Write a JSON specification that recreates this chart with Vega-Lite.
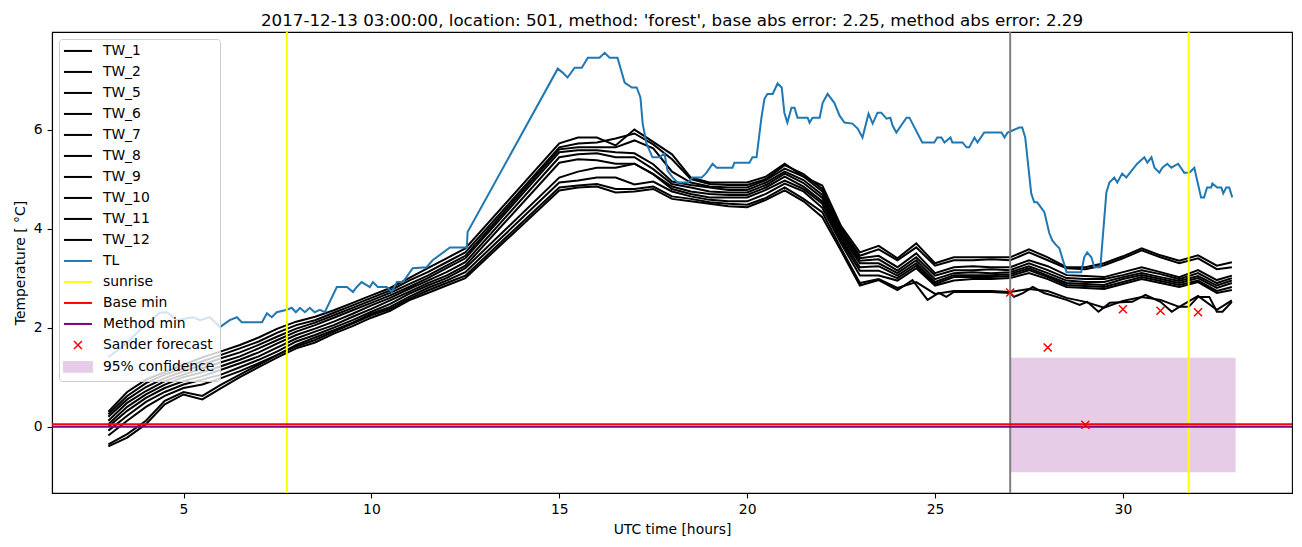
{
"$schema": "https://vega.github.io/schema/vega-lite/v6.json",
"width": 1240, "height": 461,
"autosize": {"type": "none"},
"padding": {"left": 52, "top": 32, "right": 10, "bottom": 54},
"background": "white",
"title": {"text": "2017-12-13 03:00:00, location: 501, method: 'forest', base abs error: 2.25, method abs error: 2.29", "font": "DejaVu Sans", "fontSize": 16.7, "fontWeight": "normal", "color": "black", "anchor": "middle", "frame": "group", "offset": 4, "baseline": "bottom", "dy": 20},
"config": {
"view": {"stroke": "black", "strokeWidth": 1.1},
"axis": {"domainColor": "black", "domainWidth": 1.1, "tickColor": "black", "tickWidth": 1.1, "tickSize": 4.9, "labelPadding": 4.9, "labelFont": "DejaVu Sans", "labelFontSize": 13.9, "labelColor": "black", "titleFont": "DejaVu Sans", "titleFontSize": 13.9, "titleFontWeight": "normal", "titleColor": "black", "titlePadding": 5.6, "grid": false}
},
"datasets": {
"tw": [
{"s":"TW_1","h":3,"v":0.30},{"s":"TW_1","h":3.5,"v":0.70},{"s":"TW_1","h":4,"v":0.95},{"s":"TW_1","h":4.5,"v":1.10},{"s":"TW_1","h":5,"v":1.25},{"s":"TW_1","h":5.5,"v":1.40},{"s":"TW_1","h":6,"v":1.52},{"s":"TW_1","h":6.5,"v":1.65},{"s":"TW_1","h":7,"v":1.80},{"s":"TW_1","h":7.5,"v":1.98},{"s":"TW_1","h":8,"v":2.12},{"s":"TW_1","h":8.5,"v":2.22},{"s":"TW_1","h":9,"v":2.35},{"s":"TW_1","h":9.5,"v":2.50},{"s":"TW_1","h":10,"v":2.65},{"s":"TW_1","h":10.5,"v":2.80},{"s":"TW_1","h":11,"v":3.00},{"s":"TW_1","h":11.5,"v":3.20},{"s":"TW_1","h":12,"v":3.40},{"s":"TW_1","h":12.5,"v":3.60},
{"s":"TW_1","h":15,"v":5.72},{"s":"TW_1","h":15.5,"v":5.84},{"s":"TW_1","h":16,"v":5.84},{"s":"TW_1","h":16.5,"v":5.68},{"s":"TW_1","h":17,"v":6.00},{"s":"TW_1","h":17.5,"v":5.75},{"s":"TW_1","h":18,"v":5.50},{"s":"TW_1","h":18.5,"v":5.03},{"s":"TW_1","h":19,"v":4.93},{"s":"TW_1","h":19.5,"v":4.93},{"s":"TW_1","h":20,"v":4.93},{"s":"TW_1","h":20.5,"v":5.05},{"s":"TW_1","h":21,"v":5.31},{"s":"TW_1","h":21.5,"v":5.05},{"s":"TW_1","h":22,"v":4.87},{"s":"TW_1","h":22.5,"v":4.05},{"s":"TW_1","h":23,"v":3.52},
{"s":"TW_1","h":23.5,"v":3.65},{"s":"TW_1","h":24,"v":3.40},{"s":"TW_1","h":24.5,"v":3.70},{"s":"TW_1","h":25,"v":3.30},{"s":"TW_1","h":25.5,"v":3.42},{"s":"TW_1","h":26,"v":3.42},{"s":"TW_1","h":26.5,"v":3.42},{"s":"TW_1","h":27,"v":3.42},{"s":"TW_1","h":27.5,"v":3.58},{"s":"TW_1","h":28,"v":3.42},{"s":"TW_1","h":28.5,"v":3.22},{"s":"TW_1","h":29,"v":3.22},{"s":"TW_1","h":29.5,"v":3.30},{"s":"TW_1","h":30,"v":3.44},{"s":"TW_1","h":30.5,"v":3.60},{"s":"TW_1","h":31,"v":3.46},{"s":"TW_1","h":31.5,"v":3.35},{"s":"TW_1","h":32,"v":3.46},{"s":"TW_1","h":32.5,"v":3.25},{"s":"TW_1","h":32.9,"v":3.32},
{"s":"TW_2","h":3,"v":0.25},{"s":"TW_2","h":3.5,"v":0.62},{"s":"TW_2","h":4,"v":0.88},{"s":"TW_2","h":4.5,"v":1.05},{"s":"TW_2","h":5,"v":1.18},{"s":"TW_2","h":5.5,"v":1.32},{"s":"TW_2","h":6,"v":1.45},{"s":"TW_2","h":6.5,"v":1.58},{"s":"TW_2","h":7,"v":1.72},{"s":"TW_2","h":7.5,"v":1.90},{"s":"TW_2","h":8,"v":2.05},{"s":"TW_2","h":8.5,"v":2.15},{"s":"TW_2","h":9,"v":2.30},{"s":"TW_2","h":9.5,"v":2.45},{"s":"TW_2","h":10,"v":2.60},{"s":"TW_2","h":10.5,"v":2.75},{"s":"TW_2","h":11,"v":2.95},{"s":"TW_2","h":11.5,"v":3.12},{"s":"TW_2","h":12,"v":3.32},{"s":"TW_2","h":12.5,"v":3.52},
{"s":"TW_2","h":15,"v":5.64},{"s":"TW_2","h":15.5,"v":5.72},{"s":"TW_2","h":16,"v":5.74},{"s":"TW_2","h":16.5,"v":5.82},{"s":"TW_2","h":17,"v":5.92},{"s":"TW_2","h":17.5,"v":5.70},{"s":"TW_2","h":18,"v":5.40},{"s":"TW_2","h":18.5,"v":5.00},{"s":"TW_2","h":19,"v":4.90},{"s":"TW_2","h":19.5,"v":4.88},{"s":"TW_2","h":20,"v":4.88},{"s":"TW_2","h":20.5,"v":5.00},{"s":"TW_2","h":21,"v":5.28},{"s":"TW_2","h":21.5,"v":5.10},{"s":"TW_2","h":22,"v":4.80},{"s":"TW_2","h":22.5,"v":4.00},{"s":"TW_2","h":23,"v":3.45},
{"s":"TW_2","h":23.5,"v":3.58},{"s":"TW_2","h":24,"v":3.36},{"s":"TW_2","h":24.5,"v":3.62},{"s":"TW_2","h":25,"v":3.25},{"s":"TW_2","h":25.5,"v":3.36},{"s":"TW_2","h":26,"v":3.36},{"s":"TW_2","h":26.5,"v":3.38},{"s":"TW_2","h":27,"v":3.36},{"s":"TW_2","h":27.5,"v":3.52},{"s":"TW_2","h":28,"v":3.36},{"s":"TW_2","h":28.5,"v":3.20},{"s":"TW_2","h":29,"v":3.18},{"s":"TW_2","h":29.5,"v":3.26},{"s":"TW_2","h":30,"v":3.40},{"s":"TW_2","h":30.5,"v":3.56},{"s":"TW_2","h":31,"v":3.42},{"s":"TW_2","h":31.5,"v":3.30},{"s":"TW_2","h":32,"v":3.40},{"s":"TW_2","h":32.5,"v":3.18},{"s":"TW_2","h":32.9,"v":3.22},
{"s":"TW_5","h":3,"v":0.20},{"s":"TW_5","h":3.5,"v":0.55},{"s":"TW_5","h":4,"v":0.80},{"s":"TW_5","h":4.5,"v":0.98},{"s":"TW_5","h":5,"v":1.12},{"s":"TW_5","h":5.5,"v":1.25},{"s":"TW_5","h":6,"v":1.38},{"s":"TW_5","h":6.5,"v":1.50},{"s":"TW_5","h":7,"v":1.65},{"s":"TW_5","h":7.5,"v":1.82},{"s":"TW_5","h":8,"v":1.98},{"s":"TW_5","h":8.5,"v":2.10},{"s":"TW_5","h":9,"v":2.25},{"s":"TW_5","h":9.5,"v":2.40},{"s":"TW_5","h":10,"v":2.55},{"s":"TW_5","h":10.5,"v":2.70},{"s":"TW_5","h":11,"v":2.88},{"s":"TW_5","h":11.5,"v":3.05},{"s":"TW_5","h":12,"v":3.25},{"s":"TW_5","h":12.5,"v":3.45},
{"s":"TW_5","h":15,"v":5.60},{"s":"TW_5","h":15.5,"v":5.64},{"s":"TW_5","h":16,"v":5.64},{"s":"TW_5","h":16.5,"v":5.64},{"s":"TW_5","h":17,"v":5.78},{"s":"TW_5","h":17.5,"v":5.62},{"s":"TW_5","h":18,"v":5.15},{"s":"TW_5","h":18.5,"v":4.93},{"s":"TW_5","h":19,"v":4.85},{"s":"TW_5","h":19.5,"v":4.83},{"s":"TW_5","h":20,"v":4.83},{"s":"TW_5","h":20.5,"v":4.98},{"s":"TW_5","h":21,"v":5.21},{"s":"TW_5","h":21.5,"v":5.05},{"s":"TW_5","h":22,"v":4.75},{"s":"TW_5","h":22.5,"v":3.95},{"s":"TW_5","h":23,"v":3.40},
{"s":"TW_5","h":23.5,"v":3.45},{"s":"TW_5","h":24,"v":3.22},{"s":"TW_5","h":24.5,"v":3.50},{"s":"TW_5","h":25,"v":3.10},{"s":"TW_5","h":25.5,"v":3.22},{"s":"TW_5","h":26,"v":3.24},{"s":"TW_5","h":26.5,"v":3.22},{"s":"TW_5","h":27,"v":3.22},{"s":"TW_5","h":27.5,"v":3.36},{"s":"TW_5","h":28,"v":3.24},{"s":"TW_5","h":28.5,"v":3.06},{"s":"TW_5","h":29,"v":3.04},{"s":"TW_5","h":29.5,"v":3.02},{"s":"TW_5","h":30,"v":3.12},{"s":"TW_5","h":30.5,"v":3.22},{"s":"TW_5","h":31,"v":3.12},{"s":"TW_5","h":31.5,"v":3.02},{"s":"TW_5","h":32,"v":3.16},{"s":"TW_5","h":32.5,"v":2.96},{"s":"TW_5","h":32.9,"v":3.05},
{"s":"TW_6","h":3,"v":0.12},{"s":"TW_6","h":3.5,"v":0.48},{"s":"TW_6","h":4,"v":0.72},{"s":"TW_6","h":4.5,"v":0.92},{"s":"TW_6","h":5,"v":1.05},{"s":"TW_6","h":5.5,"v":1.18},{"s":"TW_6","h":6,"v":1.30},{"s":"TW_6","h":6.5,"v":1.42},{"s":"TW_6","h":7,"v":1.58},{"s":"TW_6","h":7.5,"v":1.75},{"s":"TW_6","h":8,"v":1.92},{"s":"TW_6","h":8.5,"v":2.05},{"s":"TW_6","h":9,"v":2.20},{"s":"TW_6","h":9.5,"v":2.35},{"s":"TW_6","h":10,"v":2.50},{"s":"TW_6","h":10.5,"v":2.65},{"s":"TW_6","h":11,"v":2.82},{"s":"TW_6","h":11.5,"v":3.00},{"s":"TW_6","h":12,"v":3.20},{"s":"TW_6","h":12.5,"v":3.40},
{"s":"TW_6","h":15,"v":5.54},{"s":"TW_6","h":15.5,"v":5.58},{"s":"TW_6","h":16,"v":5.58},{"s":"TW_6","h":16.5,"v":5.54},{"s":"TW_6","h":17,"v":5.52},{"s":"TW_6","h":17.5,"v":5.30},{"s":"TW_6","h":18,"v":4.95},{"s":"TW_6","h":18.5,"v":4.88},{"s":"TW_6","h":19,"v":4.83},{"s":"TW_6","h":19.5,"v":4.78},{"s":"TW_6","h":20,"v":4.78},{"s":"TW_6","h":20.5,"v":4.93},{"s":"TW_6","h":21,"v":5.15},{"s":"TW_6","h":21.5,"v":4.98},{"s":"TW_6","h":22,"v":4.68},{"s":"TW_6","h":22.5,"v":3.90},{"s":"TW_6","h":23,"v":3.35},
{"s":"TW_6","h":23.5,"v":3.38},{"s":"TW_6","h":24,"v":3.15},{"s":"TW_6","h":24.5,"v":3.42},{"s":"TW_6","h":25,"v":3.05},{"s":"TW_6","h":25.5,"v":3.16},{"s":"TW_6","h":26,"v":3.16},{"s":"TW_6","h":26.5,"v":3.18},{"s":"TW_6","h":27,"v":3.16},{"s":"TW_6","h":27.5,"v":3.30},{"s":"TW_6","h":28,"v":3.16},{"s":"TW_6","h":28.5,"v":3.00},{"s":"TW_6","h":29,"v":2.98},{"s":"TW_6","h":29.5,"v":2.98},{"s":"TW_6","h":30,"v":3.06},{"s":"TW_6","h":30.5,"v":3.16},{"s":"TW_6","h":31,"v":3.08},{"s":"TW_6","h":31.5,"v":2.98},{"s":"TW_6","h":32,"v":3.10},{"s":"TW_6","h":32.5,"v":2.90},{"s":"TW_6","h":32.9,"v":3.00},
{"s":"TW_7","h":3,"v":0.05},{"s":"TW_7","h":3.5,"v":0.40},{"s":"TW_7","h":4,"v":0.65},{"s":"TW_7","h":4.5,"v":0.85},{"s":"TW_7","h":5,"v":1.00},{"s":"TW_7","h":5.5,"v":1.10},{"s":"TW_7","h":6,"v":1.22},{"s":"TW_7","h":6.5,"v":1.35},{"s":"TW_7","h":7,"v":1.50},{"s":"TW_7","h":7.5,"v":1.68},{"s":"TW_7","h":8,"v":1.85},{"s":"TW_7","h":8.5,"v":1.98},{"s":"TW_7","h":9,"v":2.12},{"s":"TW_7","h":9.5,"v":2.28},{"s":"TW_7","h":10,"v":2.45},{"s":"TW_7","h":10.5,"v":2.60},{"s":"TW_7","h":11,"v":2.78},{"s":"TW_7","h":11.5,"v":2.95},{"s":"TW_7","h":12,"v":3.12},{"s":"TW_7","h":12.5,"v":3.32},
{"s":"TW_7","h":15,"v":5.44},{"s":"TW_7","h":15.5,"v":5.50},{"s":"TW_7","h":16,"v":5.52},{"s":"TW_7","h":16.5,"v":5.44},{"s":"TW_7","h":17,"v":5.44},{"s":"TW_7","h":17.5,"v":5.20},{"s":"TW_7","h":18,"v":4.90},{"s":"TW_7","h":18.5,"v":4.83},{"s":"TW_7","h":19,"v":4.75},{"s":"TW_7","h":19.5,"v":4.73},{"s":"TW_7","h":20,"v":4.73},{"s":"TW_7","h":20.5,"v":4.88},{"s":"TW_7","h":21,"v":5.11},{"s":"TW_7","h":21.5,"v":4.92},{"s":"TW_7","h":22,"v":4.62},{"s":"TW_7","h":22.5,"v":3.85},{"s":"TW_7","h":23,"v":3.30},
{"s":"TW_7","h":23.5,"v":3.30},{"s":"TW_7","h":24,"v":3.10},{"s":"TW_7","h":24.5,"v":3.36},{"s":"TW_7","h":25,"v":2.98},{"s":"TW_7","h":25.5,"v":3.10},{"s":"TW_7","h":26,"v":3.12},{"s":"TW_7","h":26.5,"v":3.10},{"s":"TW_7","h":27,"v":3.12},{"s":"TW_7","h":27.5,"v":3.24},{"s":"TW_7","h":28,"v":3.10},{"s":"TW_7","h":28.5,"v":2.95},{"s":"TW_7","h":29,"v":2.92},{"s":"TW_7","h":29.5,"v":2.92},{"s":"TW_7","h":30,"v":3.02},{"s":"TW_7","h":30.5,"v":3.10},{"s":"TW_7","h":31,"v":3.02},{"s":"TW_7","h":31.5,"v":2.94},{"s":"TW_7","h":32,"v":3.04},{"s":"TW_7","h":32.5,"v":2.85},{"s":"TW_7","h":32.9,"v":2.95},
{"s":"TW_8","h":3,"v":0.00},{"s":"TW_8","h":3.5,"v":0.32},{"s":"TW_8","h":4,"v":0.58},{"s":"TW_8","h":4.5,"v":0.78},{"s":"TW_8","h":5,"v":0.92},{"s":"TW_8","h":5.5,"v":1.02},{"s":"TW_8","h":6,"v":1.15},{"s":"TW_8","h":6.5,"v":1.28},{"s":"TW_8","h":7,"v":1.42},{"s":"TW_8","h":7.5,"v":1.60},{"s":"TW_8","h":8,"v":1.78},{"s":"TW_8","h":8.5,"v":1.92},{"s":"TW_8","h":9,"v":2.05},{"s":"TW_8","h":9.5,"v":2.22},{"s":"TW_8","h":10,"v":2.38},{"s":"TW_8","h":10.5,"v":2.55},{"s":"TW_8","h":11,"v":2.72},{"s":"TW_8","h":11.5,"v":2.90},{"s":"TW_8","h":12,"v":3.05},{"s":"TW_8","h":12.5,"v":3.25},
{"s":"TW_8","h":15,"v":5.33},{"s":"TW_8","h":15.5,"v":5.40},{"s":"TW_8","h":16,"v":5.38},{"s":"TW_8","h":16.5,"v":5.31},{"s":"TW_8","h":17,"v":5.31},{"s":"TW_8","h":17.5,"v":5.10},{"s":"TW_8","h":18,"v":4.85},{"s":"TW_8","h":18.5,"v":4.75},{"s":"TW_8","h":19,"v":4.70},{"s":"TW_8","h":19.5,"v":4.68},{"s":"TW_8","h":20,"v":4.68},{"s":"TW_8","h":20.5,"v":4.83},{"s":"TW_8","h":21,"v":5.05},{"s":"TW_8","h":21.5,"v":4.85},{"s":"TW_8","h":22,"v":4.55},{"s":"TW_8","h":22.5,"v":3.80},{"s":"TW_8","h":23,"v":3.22},
{"s":"TW_8","h":23.5,"v":3.24},{"s":"TW_8","h":24,"v":3.05},{"s":"TW_8","h":24.5,"v":3.30},{"s":"TW_8","h":25,"v":2.92},{"s":"TW_8","h":25.5,"v":3.06},{"s":"TW_8","h":26,"v":3.06},{"s":"TW_8","h":26.5,"v":3.06},{"s":"TW_8","h":27,"v":3.08},{"s":"TW_8","h":27.5,"v":3.20},{"s":"TW_8","h":28,"v":3.05},{"s":"TW_8","h":28.5,"v":2.90},{"s":"TW_8","h":29,"v":2.88},{"s":"TW_8","h":29.5,"v":2.86},{"s":"TW_8","h":30,"v":2.98},{"s":"TW_8","h":30.5,"v":3.06},{"s":"TW_8","h":31,"v":2.98},{"s":"TW_8","h":31.5,"v":2.90},{"s":"TW_8","h":32,"v":3.00},{"s":"TW_8","h":32.5,"v":2.80},{"s":"TW_8","h":32.9,"v":2.90},
{"s":"TW_9","h":3,"v":-0.08},{"s":"TW_9","h":3.5,"v":0.22},{"s":"TW_9","h":4,"v":0.50},{"s":"TW_9","h":4.5,"v":0.70},{"s":"TW_9","h":5,"v":0.85},{"s":"TW_9","h":5.5,"v":0.95},{"s":"TW_9","h":6,"v":1.05},{"s":"TW_9","h":6.5,"v":1.20},{"s":"TW_9","h":7,"v":1.35},{"s":"TW_9","h":7.5,"v":1.52},{"s":"TW_9","h":8,"v":1.72},{"s":"TW_9","h":8.5,"v":1.85},{"s":"TW_9","h":9,"v":2.00},{"s":"TW_9","h":9.5,"v":2.15},{"s":"TW_9","h":10,"v":2.32},{"s":"TW_9","h":10.5,"v":2.48},{"s":"TW_9","h":11,"v":2.68},{"s":"TW_9","h":11.5,"v":2.85},{"s":"TW_9","h":12,"v":3.00},{"s":"TW_9","h":12.5,"v":3.20},
{"s":"TW_9","h":15,"v":5.03},{"s":"TW_9","h":15.5,"v":5.15},{"s":"TW_9","h":16,"v":5.23},{"s":"TW_9","h":16.5,"v":5.23},{"s":"TW_9","h":17,"v":5.31},{"s":"TW_9","h":17.5,"v":5.10},{"s":"TW_9","h":18,"v":4.80},{"s":"TW_9","h":18.5,"v":4.70},{"s":"TW_9","h":19,"v":4.63},{"s":"TW_9","h":19.5,"v":4.63},{"s":"TW_9","h":20,"v":4.63},{"s":"TW_9","h":20.5,"v":4.78},{"s":"TW_9","h":21,"v":4.97},{"s":"TW_9","h":21.5,"v":4.80},{"s":"TW_9","h":22,"v":4.50},{"s":"TW_9","h":22.5,"v":3.75},{"s":"TW_9","h":23,"v":3.15},
{"s":"TW_9","h":23.5,"v":3.15},{"s":"TW_9","h":24,"v":3.00},{"s":"TW_9","h":24.5,"v":3.25},{"s":"TW_9","h":25,"v":2.88},{"s":"TW_9","h":25.5,"v":3.02},{"s":"TW_9","h":26,"v":3.02},{"s":"TW_9","h":26.5,"v":3.02},{"s":"TW_9","h":27,"v":3.04},{"s":"TW_9","h":27.5,"v":3.16},{"s":"TW_9","h":28,"v":3.02},{"s":"TW_9","h":28.5,"v":2.86},{"s":"TW_9","h":29,"v":2.84},{"s":"TW_9","h":29.5,"v":2.82},{"s":"TW_9","h":30,"v":2.92},{"s":"TW_9","h":30.5,"v":3.02},{"s":"TW_9","h":31,"v":2.94},{"s":"TW_9","h":31.5,"v":2.86},{"s":"TW_9","h":32,"v":2.95},{"s":"TW_9","h":32.5,"v":2.74},{"s":"TW_9","h":32.9,"v":2.82},
{"s":"TW_10","h":3,"v":-0.18},{"s":"TW_10","h":3.5,"v":0.12},{"s":"TW_10","h":4,"v":0.40},{"s":"TW_10","h":4.5,"v":0.62},{"s":"TW_10","h":5,"v":0.78},{"s":"TW_10","h":5.5,"v":0.85},{"s":"TW_10","h":6,"v":0.98},{"s":"TW_10","h":6.5,"v":1.12},{"s":"TW_10","h":7,"v":1.28},{"s":"TW_10","h":7.5,"v":1.45},{"s":"TW_10","h":8,"v":1.65},{"s":"TW_10","h":8.5,"v":1.80},{"s":"TW_10","h":9,"v":1.95},{"s":"TW_10","h":9.5,"v":2.10},{"s":"TW_10","h":10,"v":2.28},{"s":"TW_10","h":10.5,"v":2.42},{"s":"TW_10","h":11,"v":2.62},{"s":"TW_10","h":11.5,"v":2.80},{"s":"TW_10","h":12,"v":2.95},{"s":"TW_10","h":12.5,"v":3.12},
{"s":"TW_10","h":15,"v":4.93},{"s":"TW_10","h":15.5,"v":4.97},{"s":"TW_10","h":16,"v":5.03},{"s":"TW_10","h":16.5,"v":5.03},{"s":"TW_10","h":17,"v":4.89},{"s":"TW_10","h":17.5,"v":4.95},{"s":"TW_10","h":18,"v":4.75},{"s":"TW_10","h":18.5,"v":4.65},{"s":"TW_10","h":19,"v":4.58},{"s":"TW_10","h":19.5,"v":4.55},{"s":"TW_10","h":20,"v":4.55},{"s":"TW_10","h":20.5,"v":4.70},{"s":"TW_10","h":21,"v":4.91},{"s":"TW_10","h":21.5,"v":4.75},{"s":"TW_10","h":22,"v":4.42},{"s":"TW_10","h":22.5,"v":3.70},{"s":"TW_10","h":23,"v":3.05},
{"s":"TW_10","h":23.5,"v":3.05},{"s":"TW_10","h":24,"v":2.95},{"s":"TW_10","h":24.5,"v":3.20},{"s":"TW_10","h":25,"v":2.85},{"s":"TW_10","h":25.5,"v":2.95},{"s":"TW_10","h":26,"v":2.98},{"s":"TW_10","h":26.5,"v":2.98},{"s":"TW_10","h":27,"v":3.00},{"s":"TW_10","h":27.5,"v":3.10},{"s":"TW_10","h":28,"v":2.98},{"s":"TW_10","h":28.5,"v":2.82},{"s":"TW_10","h":29,"v":2.80},{"s":"TW_10","h":29.5,"v":2.78},{"s":"TW_10","h":30,"v":2.88},{"s":"TW_10","h":30.5,"v":2.98},{"s":"TW_10","h":31,"v":2.90},{"s":"TW_10","h":31.5,"v":2.82},{"s":"TW_10","h":32,"v":2.92},{"s":"TW_10","h":32.5,"v":2.70},{"s":"TW_10","h":32.9,"v":2.76},
{"s":"TW_11","h":3,"v":-0.36},{"s":"TW_11","h":3.5,"v":-0.15},{"s":"TW_11","h":4,"v":0.12},{"s":"TW_11","h":4.5,"v":0.52},{"s":"TW_11","h":5,"v":0.70},{"s":"TW_11","h":5.5,"v":0.62},{"s":"TW_11","h":6,"v":0.85},{"s":"TW_11","h":6.5,"v":1.05},{"s":"TW_11","h":7,"v":1.25},{"s":"TW_11","h":7.5,"v":1.45},{"s":"TW_11","h":8,"v":1.62},{"s":"TW_11","h":8.5,"v":1.75},{"s":"TW_11","h":9,"v":1.92},{"s":"TW_11","h":9.5,"v":2.08},{"s":"TW_11","h":10,"v":2.25},{"s":"TW_11","h":10.5,"v":2.38},{"s":"TW_11","h":11,"v":2.58},{"s":"TW_11","h":11.5,"v":2.75},{"s":"TW_11","h":12,"v":2.90},{"s":"TW_11","h":12.5,"v":3.05},
{"s":"TW_11","h":15,"v":4.83},{"s":"TW_11","h":15.5,"v":4.87},{"s":"TW_11","h":16,"v":4.90},{"s":"TW_11","h":16.5,"v":4.80},{"s":"TW_11","h":17,"v":4.80},{"s":"TW_11","h":17.5,"v":4.85},{"s":"TW_11","h":18,"v":4.65},{"s":"TW_11","h":18.5,"v":4.60},{"s":"TW_11","h":19,"v":4.53},{"s":"TW_11","h":19.5,"v":4.50},{"s":"TW_11","h":20,"v":4.48},{"s":"TW_11","h":20.5,"v":4.62},{"s":"TW_11","h":21,"v":4.83},{"s":"TW_11","h":21.5,"v":4.60},{"s":"TW_11","h":22,"v":4.33},{"s":"TW_11","h":22.5,"v":3.60},{"s":"TW_11","h":23,"v":2.90},
{"s":"TW_11","h":23.5,"v":2.98},{"s":"TW_11","h":24,"v":2.80},{"s":"TW_11","h":24.5,"v":2.92},{"s":"TW_11","h":25,"v":2.68},{"s":"TW_11","h":25.5,"v":2.74},{"s":"TW_11","h":26,"v":2.74},{"s":"TW_11","h":26.5,"v":2.74},{"s":"TW_11","h":27,"v":2.72},{"s":"TW_11","h":27.5,"v":2.78},{"s":"TW_11","h":28,"v":2.74},{"s":"TW_11","h":28.5,"v":2.60},{"s":"TW_11","h":29,"v":2.52},{"s":"TW_11","h":29.5,"v":2.40},{"s":"TW_11","h":30,"v":2.54},{"s":"TW_11","h":30.5,"v":2.62},{"s":"TW_11","h":31,"v":2.56},{"s":"TW_11","h":31.5,"v":2.42},{"s":"TW_11","h":32,"v":2.64},{"s":"TW_11","h":32.5,"v":2.36},{"s":"TW_11","h":32.9,"v":2.55},
{"s":"TW_12","h":3,"v":-0.40},{"s":"TW_12","h":3.5,"v":-0.22},{"s":"TW_12","h":4,"v":0.05},{"s":"TW_12","h":4.5,"v":0.45},{"s":"TW_12","h":5,"v":0.65},{"s":"TW_12","h":5.5,"v":0.55},{"s":"TW_12","h":6,"v":0.78},{"s":"TW_12","h":6.5,"v":1.00},{"s":"TW_12","h":7,"v":1.20},{"s":"TW_12","h":7.5,"v":1.40},{"s":"TW_12","h":8,"v":1.58},{"s":"TW_12","h":8.5,"v":1.70},{"s":"TW_12","h":9,"v":1.88},{"s":"TW_12","h":9.5,"v":2.03},{"s":"TW_12","h":10,"v":2.20},{"s":"TW_12","h":10.5,"v":2.34},{"s":"TW_12","h":11,"v":2.55},{"s":"TW_12","h":11.5,"v":2.70},{"s":"TW_12","h":12,"v":2.85},{"s":"TW_12","h":12.5,"v":3.00},
{"s":"TW_12","h":15,"v":4.77},{"s":"TW_12","h":15.5,"v":4.83},{"s":"TW_12","h":16,"v":4.85},{"s":"TW_12","h":16.5,"v":4.73},{"s":"TW_12","h":17,"v":4.75},{"s":"TW_12","h":17.5,"v":4.80},{"s":"TW_12","h":18,"v":4.60},{"s":"TW_12","h":18.5,"v":4.55},{"s":"TW_12","h":19,"v":4.50},{"s":"TW_12","h":19.5,"v":4.45},{"s":"TW_12","h":20,"v":4.43},{"s":"TW_12","h":20.5,"v":4.58},{"s":"TW_12","h":21,"v":4.77},{"s":"TW_12","h":21.5,"v":4.55},{"s":"TW_12","h":22,"v":4.23},{"s":"TW_12","h":22.5,"v":3.55},{"s":"TW_12","h":23,"v":2.85},
{"s":"TW_12","h":23.5,"v":2.96},{"s":"TW_12","h":24,"v":2.76},{"s":"TW_12","h":24.4,"v":2.96},{"s":"TW_12","h":24.8,"v":2.56},{"s":"TW_12","h":25.1,"v":2.70},{"s":"TW_12","h":25.3,"v":2.62},{"s":"TW_12","h":25.5,"v":2.72},{"s":"TW_12","h":26,"v":2.72},{"s":"TW_12","h":26.5,"v":2.72},{"s":"TW_12","h":27,"v":2.70},{"s":"TW_12","h":27.1,"v":2.62},{"s":"TW_12","h":27.35,"v":2.70},{"s":"TW_12","h":27.6,"v":2.82},{"s":"TW_12","h":27.9,"v":2.70},{"s":"TW_12","h":28.5,"v":2.56},{"s":"TW_12","h":28.85,"v":2.46},{"s":"TW_12","h":29.05,"v":2.52},{"s":"TW_12","h":29.35,"v":2.32},{"s":"TW_12","h":29.65,"v":2.50},{"s":"TW_12","h":30.25,"v":2.52},{"s":"TW_12","h":30.6,"v":2.66},{"s":"TW_12","h":31,"v":2.52},{"s":"TW_12","h":31.3,"v":2.32},{"s":"TW_12","h":31.5,"v":2.42},{"s":"TW_12","h":31.75,"v":2.42},{"s":"TW_12","h":32,"v":2.62},{"s":"TW_12","h":32.3,"v":2.62},{"s":"TW_12","h":32.5,"v":2.32},{"s":"TW_12","h":32.65,"v":2.32},{"s":"TW_12","h":32.9,"v":2.52}
],
"tl": [
{"h":3.0,"v":1.40},{"h":3.49,"v":1.69},{"h":3.84,"v":1.95},{"h":4.37,"v":2.30},{"h":4.56,"v":2.31},{"h":4.82,"v":2.15},{"h":5.25,"v":2.21},{"h":5.44,"v":2.15},{"h":5.70,"v":2.21},{"h":5.97,"v":2.01},{"h":6.23,"v":2.15},{"h":6.42,"v":2.21},{"h":6.55,"v":2.11},{"h":7.09,"v":2.11},{"h":7.22,"v":2.29},{"h":7.35,"v":2.21},{"h":7.48,"v":2.31},{"h":7.75,"v":2.36},{"h":7.88,"v":2.40},{"h":7.99,"v":2.31},{"h":8.10,"v":2.40},{"h":8.23,"v":2.31},{"h":8.36,"v":2.40},{"h":8.49,"v":2.31},{"h":8.63,"v":2.36},{"h":8.76,"v":2.31},{"h":9.08,"v":2.82},{"h":9.35,"v":2.82},{"h":9.51,"v":2.72},{"h":9.61,"v":2.82},{"h":9.74,"v":2.92},{"h":9.96,"v":2.82},{"h":10.04,"v":2.92},{"h":10.17,"v":2.82},{"h":10.41,"v":2.82},{"h":10.54,"v":2.72},{"h":10.68,"v":2.92},{"h":10.84,"v":2.92},{"h":11.10,"v":3.20},{"h":11.47,"v":3.22},{"h":11.63,"v":3.36},{"h":12.09,"v":3.62},{"h":12.54,"v":3.62},{"h":12.56,"v":3.93},
{"h":14.96,"v":7.23},{"h":15.09,"v":7.15},{"h":15.22,"v":7.05},{"h":15.41,"v":7.25},{"h":15.60,"v":7.25},{"h":15.76,"v":7.45},{"h":16.07,"v":7.45},{"h":16.21,"v":7.55},{"h":16.34,"v":7.45},{"h":16.55,"v":7.45},{"h":16.74,"v":6.95},{"h":16.93,"v":6.85},{"h":17.06,"v":6.85},{"h":17.16,"v":6.65},{"h":17.22,"v":6.12},{"h":17.32,"v":5.72},{"h":17.48,"v":5.44},{"h":17.67,"v":5.44},{"h":17.80,"v":5.52},{"h":17.88,"v":5.17},{"h":18.02,"v":5.03},{"h":18.15,"v":4.93},{"h":18.41,"v":4.93},{"h":18.55,"v":5.03},{"h":18.79,"v":5.03},{"h":18.92,"v":5.13},{"h":19.08,"v":5.31},{"h":19.19,"v":5.23},{"h":19.61,"v":5.23},{"h":19.66,"v":5.33},{"h":20.06,"v":5.33},{"h":20.14,"v":5.44},{"h":20.25,"v":5.44},{"h":20.38,"v":6.24},{"h":20.46,"v":6.62},{"h":20.54,"v":6.72},{"h":20.68,"v":6.72},{"h":20.81,"v":6.93},{"h":20.92,"v":6.85},{"h":20.99,"v":6.34},{"h":21.07,"v":6.14},{"h":21.18,"v":6.44},{"h":21.26,"v":6.44},{"h":21.34,"v":6.24},{"h":21.61,"v":6.24},{"h":21.66,"v":6.14},{"h":21.74,"v":6.24},{"h":21.93,"v":6.24},{"h":22.01,"v":6.54},{"h":22.14,"v":6.72},{"h":22.32,"v":6.54},{"h":22.46,"v":6.28},{"h":22.59,"v":6.14},{"h":22.80,"v":6.12},{"h":22.94,"v":6.02},{"h":23.07,"v":5.84},{"h":23.23,"v":6.32},{"h":23.34,"v":6.12},{"h":23.47,"v":6.34},{"h":23.57,"v":6.34},{"h":23.71,"v":6.22},{"h":23.81,"v":6.24},{"h":23.87,"v":6.08},{"h":23.97,"v":5.94},{"h":24.24,"v":6.24},{"h":24.32,"v":6.24},{"h":24.40,"v":6.12},{"h":24.66,"v":5.74},{"h":24.98,"v":5.74},{"h":25.06,"v":5.84},{"h":25.17,"v":5.84},{"h":25.25,"v":5.74},{"h":25.41,"v":5.84},{"h":25.46,"v":5.74},{"h":25.73,"v":5.74},{"h":25.84,"v":5.64},{"h":25.91,"v":5.64},{"h":26.05,"v":5.84},{"h":26.13,"v":5.74},{"h":26.31,"v":5.94},{"h":26.77,"v":5.94},{"h":26.85,"v":5.84},{"h":26.93,"v":5.94},{"h":27.06,"v":5.98},{"h":27.24,"v":6.04},{"h":27.32,"v":6.04},{"h":27.40,"v":5.84},{"h":27.56,"v":4.71},{"h":27.64,"v":4.53},{"h":27.72,"v":4.53},{"h":27.91,"v":4.33},{"h":28.04,"v":3.91},{"h":28.12,"v":3.76},{"h":28.23,"v":3.66},{"h":28.31,"v":3.60},{"h":28.50,"v":3.12},{"h":28.89,"v":3.12},{"h":28.97,"v":3.42},{"h":29.05,"v":3.52},{"h":29.16,"v":3.42},{"h":29.24,"v":3.22},{"h":29.40,"v":3.22},{"h":29.56,"v":4.73},{"h":29.64,"v":4.93},{"h":29.77,"v":5.03},{"h":29.85,"v":4.93},{"h":29.98,"v":5.11},{"h":30.09,"v":5.03},{"h":30.17,"v":5.11},{"h":30.38,"v":5.31},{"h":30.57,"v":5.44},{"h":30.65,"v":5.33},{"h":30.76,"v":5.44},{"h":30.84,"v":5.23},{"h":30.97,"v":5.13},{"h":31.05,"v":5.23},{"h":31.18,"v":5.31},{"h":31.29,"v":5.23},{"h":31.47,"v":5.31},{"h":31.63,"v":5.13},{"h":31.77,"v":5.13},{"h":31.90,"v":5.23},{"h":32.08,"v":4.63},{"h":32.16,"v":4.63},{"h":32.24,"v":4.83},{"h":32.35,"v":4.83},{"h":32.38,"v":4.91},{"h":32.51,"v":4.83},{"h":32.62,"v":4.83},{"h":32.67,"v":4.71},{"h":32.75,"v":4.83},{"h":32.83,"v":4.83},{"h":32.91,"v":4.63}
],
"sun": [{"s":"sunrise","h":7.75},{"s":"sunrise","h":31.75}],
"now": [{"h":27}],
"basemin": [{"s":"Base min","v":0.05}],
"methodmin": [{"s":"Method min","v":0.0}],
"sander": [{"s":"Sander forecast","h":27,"v":2.71},{"s":"Sander forecast","h":28,"v":1.60},{"s":"Sander forecast","h":29,"v":0.04},{"s":"Sander forecast","h":30,"v":2.37},{"s":"Sander forecast","h":31,"v":2.34},{"s":"Sander forecast","h":32,"v":2.31}],
"conf": [{"s":"95% confidence","h":27,"h2":33,"v":-0.92,"v2":1.39}]
},
"layer": [
{"data": {"name": "conf"}, "mark": {"type": "rect", "color": "#e6cce6"},
 "encoding": {
  "x": {"field": "h", "type": "quantitative", "scale": {"domain": [1.5, 34.5], "nice": false, "zero": false}, "axis": {"title": "UTC time [hours]", "values": [5,10,15,20,25,30], "format": "d"}},
  "x2": {"field": "h2"},
  "y": {"field": "v", "type": "quantitative", "scale": {"domain": [-1.34, 7.97], "nice": false, "zero": false}, "axis": {"title": "Temperature [ °C]", "values": [0,2,4,6], "format": "d"}},
  "y2": {"field": "v2"}}},
{"data": {"name": "tw"}, "mark": {"type": "line", "strokeWidth": 2},
 "encoding": {
  "x": {"field": "h", "type": "quantitative", "scale": {"domain": [1.5, 34.5], "nice": false, "zero": false}},
  "y": {"field": "v", "type": "quantitative", "scale": {"domain": [-1.34, 7.97], "nice": false, "zero": false}},
  "color": {"field": "s", "type": "nominal",
   "scale": {"domain": ["TW_1","TW_2","TW_5","TW_6","TW_7","TW_8","TW_9","TW_10","TW_11","TW_12","TL","sunrise","Base min","Method min","Sander forecast","95% confidence"],
             "range": ["black","black","black","black","black","black","black","black","black","black","#1f77b4","yellow","red","purple","red","#e6cce6"]},
   "legend": {"title": null, "orient": "top-left", "offset": 7, "padding": 5,
     "fillColor": "rgba(255,255,255,0.8)", "strokeColor": "#cccccc", "cornerRadius": 3,
     "labelFont": "DejaVu Sans", "labelFontSize": 13.9, "labelColor": "black", "labelOffset": 25, "labelLimit": 400,
     "symbolSize": 196, "rowPadding": 6, "symbolStrokeWidth": 2, "symbolOpacity": 1, "symbolType": "M-1,0H3",
     "encode": {"symbols": {"update": {
       "shape": {"signal": "datum.value === 'Sander forecast' ? 'M0.43,-0.57L1.57,0.57M1.57,-0.57L0.43,0.57' : (datum.value === '95% confidence' ? 'M-1,-0.7H3V0.7H-1Z' : 'M-1,0H3')"},
       "fill": {"signal": "datum.value === '95% confidence' ? '#e6cce6' : 'transparent'"},
       "stroke": {"signal": "datum.value === '95% confidence' ? '#e6cce6' : scale('color', datum.value)"},
       "strokeWidth": {"signal": "datum.value === 'Sander forecast' ? 1.5 : 2"}
     }}}}},
  "detail": {"field": "s"}}},
{"data": {"name": "tl"}, "mark": {"type": "line", "strokeWidth": 2, "color": "#1f77b4"},
 "encoding": {
  "x": {"field": "h", "type": "quantitative", "scale": {"domain": [1.5, 34.5], "nice": false, "zero": false}},
  "y": {"field": "v", "type": "quantitative", "scale": {"domain": [-1.34, 7.97], "nice": false, "zero": false}}}},
{"data": {"name": "sun"}, "mark": {"type": "rule", "color": "yellow", "strokeWidth": 2},
 "encoding": {"x": {"field": "h", "type": "quantitative", "scale": {"domain": [1.5, 34.5], "nice": false, "zero": false}}}},
{"data": {"name": "now"}, "mark": {"type": "rule", "color": "gray", "strokeWidth": 2},
 "encoding": {"x": {"field": "h", "type": "quantitative", "scale": {"domain": [1.5, 34.5], "nice": false, "zero": false}}}},
{"data": {"name": "basemin"}, "mark": {"type": "rule", "color": "red", "strokeWidth": 2},
 "encoding": {"y": {"field": "v", "type": "quantitative", "scale": {"domain": [-1.34, 7.97], "nice": false, "zero": false}}}},
{"data": {"name": "methodmin"}, "mark": {"type": "rule", "color": "purple", "strokeWidth": 2},
 "encoding": {"y": {"field": "v", "type": "quantitative", "scale": {"domain": [-1.34, 7.97], "nice": false, "zero": false}}}},
{"data": {"name": "sander"}, "mark": {"type": "point", "shape": "M-1,-1L1,1M1,-1L-1,1", "size": 64, "color": "red", "strokeWidth": 1.5, "filled": false, "opacity": 1},
 "encoding": {
  "x": {"field": "h", "type": "quantitative", "scale": {"domain": [1.5, 34.5], "nice": false, "zero": false}},
  "y": {"field": "v", "type": "quantitative", "scale": {"domain": [-1.34, 7.97], "nice": false, "zero": false}}}}
]
}
